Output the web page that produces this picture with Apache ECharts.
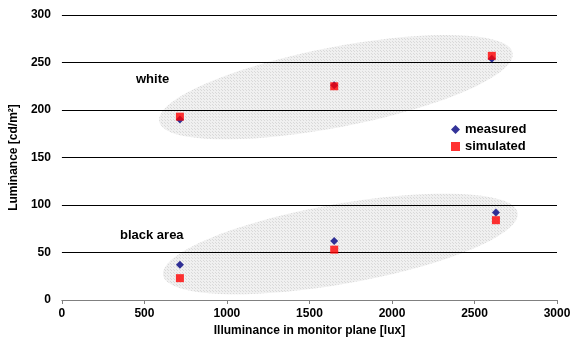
<!DOCTYPE html>
<html>
<head>
<meta charset="utf-8">
<script src="https://cdn.jsdelivr.net/npm/echarts@6/dist/echarts.min.js"></script>
<style>
  html, body { margin: 0; padding: 0; background: #fff; }
  #chart { width: 577px; height: 345px; }
</style>
</head>
<body>
<div id="chart"></div>
<script>
// illuminance [lux]
var measuredX = [715, 1650, 2605, 715, 1650, 2630];
var measuredY = [190, 226, 254, 37, 62, 92];
var simulatedX = [715, 1650, 2605, 715, 1650, 2630];
var simulatedY = [193, 225, 257, 23, 53, 84];

// grouping ellipses: centre x, centre y (data), half axes (px), tilt (deg)
var ellipseNames = ['white', 'black area'];
var ellipseCx = [1660, 1687];
var ellipseCy = [224, 59];
var ellipseA = [180, 180];
var ellipseB = [40, 40];
var ellipseTilt = [11, 10];

var xTicks = [0, 500, 1000, 1500, 2000, 2500, 3000];
var yTicks = [0, 50, 100, 150, 200, 250, 300];

function zip(xs, ys) {
  var out = [];
  for (var i = 0; i < xs.length; i++) out.push([xs[i], ys[i]]);
  return out;
}

// small dotted fill like the office pattern
function makePattern() {
  var c = document.createElement('canvas');
  c.width = 3; c.height = 3;
  var ctx = c.getContext('2d');
  ctx.fillStyle = '#f0f0f0';
  ctx.fillRect(0, 0, 3, 3);
  ctx.fillStyle = '#d9d9d9';
  ctx.fillRect(0, 0, 1, 1);
  ctx.fillRect(2, 2, 1, 1);
  return c;
}
var pattern = makePattern();

var ellipseData = [];
for (var i = 0; i < ellipseCx.length; i++) {
  ellipseData.push([ellipseCx[i], ellipseCy[i], ellipseA[i], ellipseB[i], ellipseTilt[i]]);
}

var chart = echarts.init(document.getElementById('chart'));
var font = 'Liberation Sans, Arial, sans-serif';

var option = {
  animation: false,
  backgroundColor: '#fff',
  grid: { left: 61, right: 20, top: 15, bottom: 45, containLabel: false },
  legend: {
    orient: 'vertical',
    left: 446,
    top: 118,
    itemGap: 4,
    itemWidth: 9,
    itemHeight: 9,
    textStyle: { fontFamily: font, fontWeight: 'bold', fontSize: 13, color: '#000' },
    data: [
      { name: 'measured', icon: 'diamond', itemStyle: { color: '#000080' } },
      { name: 'simulated', icon: 'rect', itemStyle: { color: '#ff0000' } }
    ]
  },
  xAxis: {
    type: 'value',
    min: xTicks[0],
    max: xTicks[xTicks.length - 1],
    interval: 500,
    name: 'Illuminance in monitor plane [lux]',
    nameLocation: 'middle',
    nameGap: 25,
    nameTextStyle: { fontFamily: font, fontWeight: 'bold', fontSize: 12, color: '#000' },
    axisLine: { show: true, lineStyle: { color: '#808080', width: 1 } },
    axisTick: { show: true, length: 4, lineStyle: { color: '#808080' } },
    axisLabel: {
      fontFamily: font, fontWeight: 'bold', fontSize: 12, color: '#000', margin: 8,
      formatter: function (v) { return String(v); }
    },
    splitLine: { show: false }
  },
  yAxis: {
    type: 'value',
    min: yTicks[0],
    max: yTicks[yTicks.length - 1],
    interval: 50,
    name: 'Luminance [cd/m²]',
    nameLocation: 'middle',
    nameGap: 40,
    nameTextStyle: { fontFamily: font, fontWeight: 'bold', fontSize: 12, color: '#000' },
    axisLine: { show: false },
    axisTick: { show: false },
    axisLabel: { fontFamily: font, fontWeight: 'bold', fontSize: 12, color: '#000', margin: 11 },
    splitLine: { show: true, lineStyle: { color: '#000', width: 1 } }
  },
  series: [
    {
      type: 'custom',
      name: 'groups',
      z: -1,
      silent: true,
      data: ellipseData,
      renderItem: function (params, api) {
        var c = api.coord([api.value(0), api.value(1)]);
        var a = api.value(2), b = api.value(3);
        var t = -api.value(4) * Math.PI / 180;
        var pts = [];
        for (var k = 0; k < 72; k++) {
          var ang = k / 72 * Math.PI * 2;
          var ex = a * Math.cos(ang), ey = b * Math.sin(ang);
          pts.push([c[0] + ex * Math.cos(t) - ey * Math.sin(t),
                    c[1] + ex * Math.sin(t) + ey * Math.cos(t)]);
        }
        return {
          type: 'polygon',
          shape: { points: pts, smooth: 0 },
          style: { fill: { image: pattern, repeat: 'repeat' }, stroke: null }
        };
      }
    },
    {
      name: 'measured',
      type: 'scatter',
      symbol: 'diamond',
      symbolSize: 8,
      itemStyle: { color: '#000080' },
      data: zip(measuredX, measuredY)
    },
    {
      name: 'simulated',
      type: 'scatter',
      symbol: 'rect',
      symbolSize: 8,
      itemStyle: { color: '#ff0000' },
      data: zip(simulatedX, simulatedY)
    }
  ],
  graphic: [
    { type: 'text', left: 136, top: 73, style: { text: ellipseNames[0], font: 'bold 13px ' + font, fill: '#000' } },
    { type: 'text', left: 120, top: 229, style: { text: ellipseNames[1], font: 'bold 13px ' + font, fill: '#000' } }
  ]
};

chart.setOption(option);
</script>
</body>
</html>
